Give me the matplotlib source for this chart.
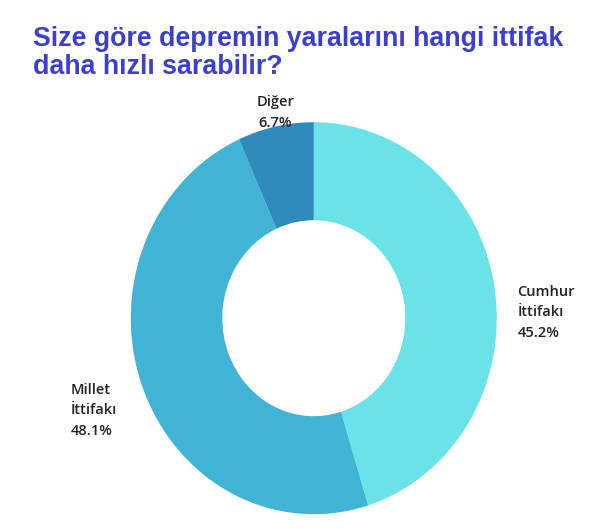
import matplotlib.pyplot as plt

labels = ['Cumhur\nİttifakı', 'Millet\nİttifakı', 'Diğer']
values = [45.2, 48.1, 6.7]
colors = ['#6AE3E8', '#40B4D4', '#2E8BBB']
label_pos = [(1.27, 0.03), (-1.2, -0.47), (-0.21, 1.05)]
align = ['left', 'left', 'center']

fig = plt.figure(figsize=(6, 5.29), dpi=100)
fig.text(0.055, 0.95, 'Size göre depremin yaralarını hangi ittifak\ndaha hızlı sarabilir?',
         ha='left', va='top', fontsize=19.3, fontweight='bold', color='#3B3FCE',
         family='Liberation Sans', linespacing=1.1)

ax = fig.add_axes([0.218, 0.028, 0.61, 0.741])
ax.pie(values, colors=colors, startangle=90, counterclock=False,
       wedgeprops=dict(width=0.5, edgecolor='none'))
ax.set_aspect('auto')
ax.set_xlim(-1, 1)
ax.set_ylim(-1, 1)

for lab, v, (x, y), al in zip(labels, values, label_pos, align):
    ax.text(x, y, f'{lab}\n{v}%', ha='center', va='center', fontsize=10.5,
            family='Open Sans', fontweight='semibold', color='#222222',
            multialignment=al, linespacing=1.6, clip_on=False)

fig.savefig('out.png')
